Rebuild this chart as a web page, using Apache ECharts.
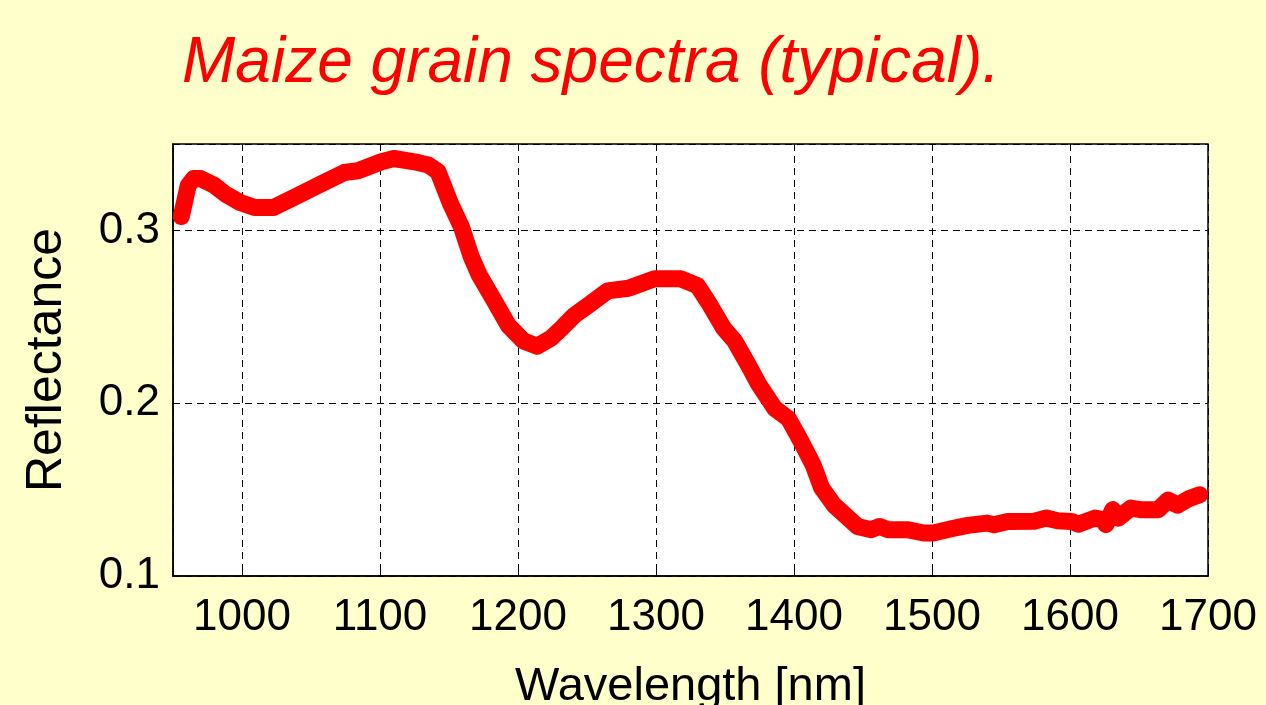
<!DOCTYPE html>
<html>
<head>
<meta charset="utf-8">
<script src="https://cdn.jsdelivr.net/npm/echarts@6/dist/echarts.min.js"></script>
<style>
html,body{margin:0;padding:0;background:#FFFFCC;}
#chart{width:1266px;height:705px;}
</style>
</head>
<body>
<div id="chart"></div>
<script>
const titleText = 'Maize grain spectra (typical).';
const xAxisName = 'Wavelength [nm]';
const yAxisName = 'Reflectance';

const wavelength = [956, 961, 965, 970, 980, 988, 999, 1009, 1023, 1040, 1057, 1074, 1084, 1101, 1110, 1125, 1135, 1142, 1151, 1159, 1166, 1172, 1183, 1193, 1204, 1214, 1224, 1233, 1241, 1251, 1265, 1280, 1299, 1318, 1330, 1339, 1349, 1357, 1367, 1374, 1386, 1396, 1405, 1414, 1420, 1429, 1446, 1456, 1462, 1468, 1482, 1494, 1501, 1514, 1526, 1540, 1545, 1555, 1574, 1583, 1591, 1601, 1606, 1618, 1624, 1626, 1631, 1635, 1644, 1651, 1664, 1671, 1678, 1686, 1694];
const reflectance = [0.308, 0.326, 0.330, 0.330, 0.326, 0.321, 0.316, 0.3133, 0.3133, 0.320, 0.3268, 0.3335, 0.3345, 0.3397, 0.3416, 0.3397, 0.3378, 0.334, 0.3156, 0.302, 0.285, 0.274, 0.259, 0.245, 0.236, 0.233, 0.2376, 0.2445, 0.251, 0.2567, 0.265, 0.2665, 0.272, 0.272, 0.268, 0.257, 0.2434, 0.236, 0.222, 0.2115, 0.197, 0.191, 0.178, 0.164, 0.151, 0.141, 0.1287, 0.1268, 0.1287, 0.1268, 0.1268, 0.1249, 0.1249, 0.1273, 0.1293, 0.1306, 0.1296, 0.1316, 0.1317, 0.1335, 0.132, 0.1316, 0.130, 0.1335, 0.1326, 0.1297, 0.1384, 0.1335, 0.1393, 0.1384, 0.1384, 0.1439, 0.141, 0.1447, 0.147];

const data = wavelength.map((w, i) => [w, reflectance[i]]);
const font = 'Liberation Sans, Arial, Helvetica, sans-serif';

const chart = echarts.init(document.getElementById('chart'));
chart.setOption({
  backgroundColor: '#FFFFCC',
  animation: false,
  title: {
    text: titleText,
    left: 177,
    top: 27,
    textStyle: { color: '#FF0000', fontSize: 64, fontStyle: 'italic', fontWeight: 'normal', fontFamily: font }
  },
  grid: {
    left: 173, right: 58, top: 144, bottom: 129,
    outerBoundsMode: 'none',
    containLabel: false,
    show: true, backgroundColor: '#FFFFFF', borderColor: '#000', borderWidth: 1.5
  },
  xAxis: {
    type: 'value', min: 950, max: 1700, splitNumber: 7,
    name: xAxisName, nameLocation: 'middle', nameGap: 88,
    nameTextStyle: { color: '#000', fontSize: 47, fontFamily: font },
    axisLine: { show: true, lineStyle: { color: '#000', width: 1.5 } },
    axisTick: { show: true, inside: true, length: 5, lineStyle: { color: '#000' } },
    axisLabel: {
      color: '#000', fontSize: 44, fontFamily: font, margin: 20,
      formatter: v => (v % 100 === 0 ? String(v) : '')
    },
    splitLine: { show: true, lineStyle: { color: '#000', type: [7, 5], width: 1 } }
  },
  yAxis: {
    type: 'value', min: 0.1, max: 0.35, interval: 0.1,
    name: yAxisName, nameLocation: 'middle', nameGap: 101, nameRotate: 90,
    nameTextStyle: { color: '#000', fontSize: 50, fontFamily: font },
    axisLine: { show: true, lineStyle: { color: '#000', width: 1.5 } },
    axisTick: { show: true, inside: true, length: 5, lineStyle: { color: '#000' } },
    axisLabel: {
      color: '#000', fontSize: 44, fontFamily: font, margin: 13, showMaxLabel: false,
      formatter: v => v.toFixed(1)
    },
    splitLine: { show: true, lineStyle: { color: '#000', type: [7, 5], width: 1 } }
  },
  series: [{
    type: 'line',
    data: data,
    showSymbol: false,
    smooth: false,
    lineStyle: { color: '#FF0000', width: 17, cap: 'round', join: 'round' }
  }]
});
</script>
</body>
</html>
